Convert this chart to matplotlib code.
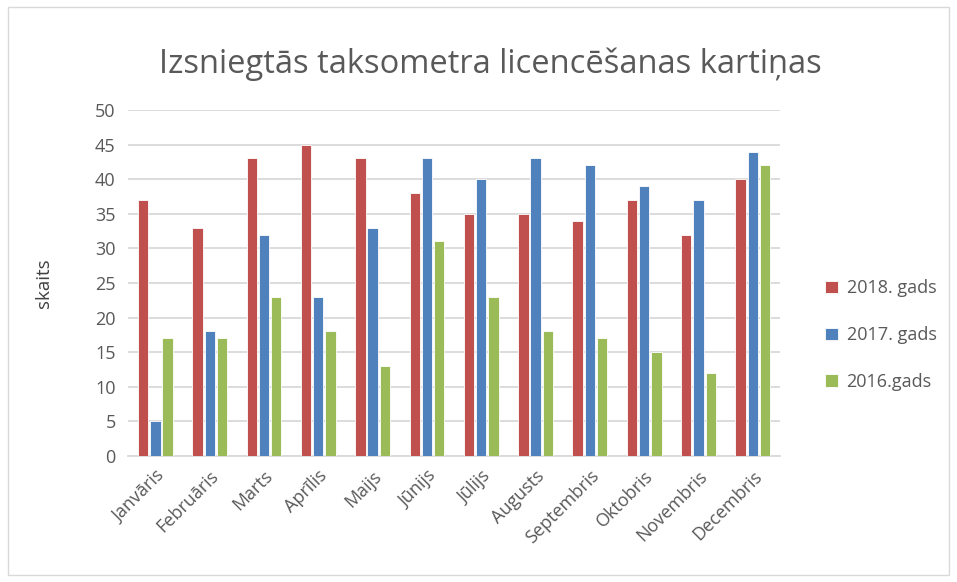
import numpy as np
import matplotlib
matplotlib.use('Agg')
import matplotlib.pyplot as plt
from matplotlib.patches import Rectangle

plt.rcParams['font.family'] = ['Open Sans', 'DejaVu Sans']

months = ['Janvāris', 'Februāris', 'Marts', 'Aprīlis', 'Maijs', 'Jūnijs',
          'Jūlijs', 'Augusts', 'Septembris', 'Oktobris', 'Novembris', 'Decembris']
series_names = ['2018. gads', '2017. gads', '2016.gads']
y2018 = [37, 33, 43, 45, 43, 38, 35, 35, 34, 37, 32, 40]
y2017 = [5, 18, 32, 23, 33, 43, 40, 43, 42, 39, 37, 44]
y2016 = [17, 17, 23, 18, 13, 31, 23, 18, 17, 15, 12, 42]
colors = ['#c0504d', '#4f81bd', '#9bbb59']

grey = '#595959'

fig = plt.figure(figsize=(9.57, 5.82), dpi=100)
ax = fig.add_axes([0.134, 0.2165, 0.681, 0.5945])

x = np.arange(len(months))
w = 0.19
for i, (vals, name, c) in enumerate(zip([y2018, y2017, y2016], series_names, colors)):
    ax.bar(x + (i - 1) * 0.225, vals, width=w, color=c, label=name,
           edgecolor='white', linewidth=0.6, zorder=3)

ax.set_xlim(-0.5, len(months) - 0.5)
ax.set_ylim(0, 50)
ax.set_yticks(range(0, 51, 5))
ax.grid(axis='y', color='#d9d9d9', linewidth=1.3, zorder=0)
for s in ['top', 'right', 'left']:
    ax.spines[s].set_visible(False)
ax.spines['bottom'].set_color('#d9d9d9')
ax.spines['bottom'].set_linewidth(1.3)
ax.tick_params(axis='both', length=0, colors=grey, labelsize=13)
ax.tick_params(axis='y', pad=9)
ax.set_xticks(x)
ax.set_xticklabels(months, rotation=45, ha='right', rotation_mode='anchor')
ax.tick_params(axis='x', pad=8)
ax.set_ylabel('skaits', color='#404040', fontsize=13.5, labelpad=30)

fig.text(0.512, 0.89, 'Izsniegtās taksometra licencēšanas kartiņas',
         ha='center', va='center', fontsize=23.5, color=grey)

leg = fig.legend(loc='center left', bbox_to_anchor=(0.845, 0.424), frameon=False,
                 fontsize=13, labelspacing=1.6, handlelength=0.7, handleheight=0.7,
                 handletextpad=0.5, labelcolor=grey)

fig.patches.append(Rectangle((0.008, 0.012), 0.984, 0.976, transform=fig.transFigure,
                             fill=False, edgecolor='#d9d9d9', linewidth=1))

fig.savefig('out.png', dpi=100)
